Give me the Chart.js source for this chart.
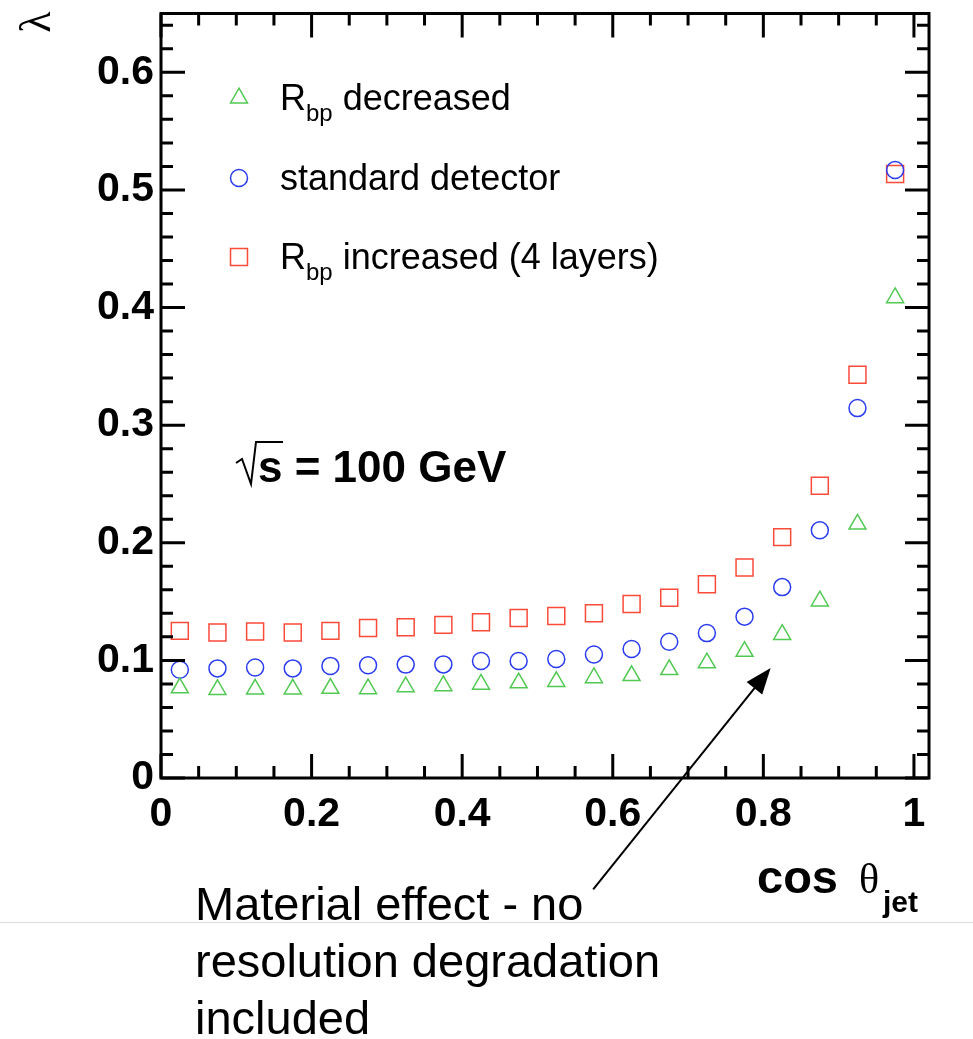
<!DOCTYPE html>
<html>
<head>
<meta charset="utf-8">
<script src="https://cdn.jsdelivr.net/npm/chart.js@4.4.1/dist/chart.umd.min.js"></script>
<style>
  html, body { margin: 0; padding: 0; background: #fff; }
  canvas { display: block; }
</style>
</head>
<body>
<canvas id="myChart" width="973" height="1039"></canvas>
<script>
// bin centres in cos(theta_jet)
var cosTheta = [0.025, 0.075, 0.125, 0.175, 0.225, 0.275, 0.325, 0.375, 0.425, 0.475,
                0.525, 0.575, 0.625, 0.675, 0.725, 0.775, 0.825, 0.875, 0.925, 0.975];

var rbpDecreased = [0.0766, 0.0752, 0.0756, 0.0756, 0.0762, 0.0758, 0.0775, 0.0784, 0.0797, 0.0808,
                    0.0820, 0.0852, 0.0870, 0.0921, 0.0978, 0.1076, 0.1220, 0.1505, 0.2158, 0.4083];
var standardDetector = [0.0920, 0.0932, 0.0940, 0.0932, 0.0953, 0.0958, 0.0964, 0.0966, 0.0995, 0.0995,
                        0.1012, 0.1050, 0.1097, 0.1158, 0.1232, 0.1372, 0.1623, 0.2107, 0.3145, 0.5169];
var rbpIncreased = [0.1251, 0.1237, 0.1245, 0.1237, 0.1251, 0.1276, 0.1282, 0.1302, 0.1325, 0.1361,
                    0.1378, 0.1401, 0.1480, 0.1533, 0.1648, 0.1790, 0.2048, 0.2485, 0.3429, 0.5136];

var xTickValues = [0, 0.2, 0.4, 0.6, 0.8, 1];
var yTickValues = [0, 0.1, 0.2, 0.3, 0.4, 0.5, 0.6];
var xMinorStep = 0.05;
var yMinorStep = 0.02;

var legendLabels = ['R_{bp} decreased', 'standard detector', 'R_{bp} increased (4 layers)'];
var noteLines = ['Material effect - no', 'resolution degradation', 'included'];

var green = '#52c952';
var blue = '#2a3cf0';
var red = '#fa4a38';

function toPoints(xs, ys) {
    return xs.map(function (x, i) { return { x: x, y: ys[i] }; });
}

// text with a _{sub} part
function drawSubText(ctx, str, x, y, size, subSize) {
    var m = str.match(/^(.*?)_\{(.*?)\}(.*)$/);
    ctx.font = size + 'px "Liberation Sans", Arial, sans-serif';
    if (!m) { ctx.fillText(str, x, y); return; }
    ctx.fillText(m[1], x, y);
    x += ctx.measureText(m[1]).width;
    ctx.font = subSize + 'px "Liberation Sans", Arial, sans-serif';
    ctx.fillText(m[2], x, y + 11);
    x += ctx.measureText(m[2]).width;
    ctx.font = size + 'px "Liberation Sans", Arial, sans-serif';
    ctx.fillText(m[3], x, y);
}

function noPadding(scale) {
    scale.paddingTop = 0;
    scale.paddingBottom = 0;
    scale.paddingLeft = 0;
    scale.paddingRight = 0;
}

var framePlugin = {
    id: 'frame',
    afterDraw: function (chart) {
        var ctx = chart.ctx;
        var a = chart.chartArea;
        var xs = chart.scales.x, ys = chart.scales.y;
        var v, p, len;
        ctx.save();
        ctx.strokeStyle = '#000';
        ctx.lineWidth = 3;
        ctx.strokeRect(a.left, a.top, a.right - a.left, a.bottom - a.top);

        ctx.beginPath();
        for (v = 0; v <= xs.max + 1e-9; v += xMinorStep) {
            p = xs.getPixelForValue(v);
            len = Math.abs(Math.round(v / 0.2) * 0.2 - v) < 1e-6 ? 24 : 12;
            ctx.moveTo(p, a.bottom); ctx.lineTo(p, a.bottom - len);
            ctx.moveTo(p, a.top); ctx.lineTo(p, a.top + len);
        }
        for (v = 0; v <= ys.max + 1e-9; v += yMinorStep) {
            p = ys.getPixelForValue(v);
            len = Math.abs(Math.round(v / 0.1) * 0.1 - v) < 1e-6 ? 24 : 12;
            ctx.moveTo(a.left, p); ctx.lineTo(a.left + len, p);
            ctx.moveTo(a.right, p); ctx.lineTo(a.right - len, p);
        }
        ctx.stroke();

        // legend
        var legendY = [98, 178, 257];
        chart.data.datasets.forEach(function (ds, i) {
            ctx.strokeStyle = ds.borderColor;
            ctx.fillStyle = 'rgba(0,0,0,0)';
            ctx.lineWidth = 1.5;
            Chart.helpers.drawPoint(ctx, {
                pointStyle: ds.pointStyle, radius: ds.pointRadius, borderWidth: 1.5
            }, 239, legendY[i]);
            ctx.fillStyle = '#000';
            ctx.textBaseline = 'alphabetic';
            ctx.textAlign = 'left';
            drawSubText(ctx, legendLabels[i], 280, legendY[i] + 12, 36, 24);
        });

        // y title (rotated lambda)
        ctx.save();
        ctx.translate(38, 22);
        ctx.rotate(-Math.PI / 2);
        ctx.font = '44px "Liberation Serif", serif';
        ctx.textAlign = 'center';
        ctx.textBaseline = 'middle';
        ctx.fillText('\u03bb', 0, 0);
        ctx.restore();

        // x title
        ctx.fillStyle = '#000';
        ctx.strokeStyle = '#000';
        ctx.textAlign = 'left';
        ctx.textBaseline = 'alphabetic';
        ctx.font = 'bold 47px "Liberation Sans", Arial, sans-serif';
        ctx.fillText('cos', 757, 893);
        ctx.font = '42px "Liberation Serif", serif';
        ctx.fillText('\u03b8', 859, 893);
        ctx.font = 'bold 30px "Liberation Sans", Arial, sans-serif';
        ctx.fillText('jet', 883, 912);

        // sqrt(s) label
        ctx.lineWidth = 2;
        ctx.beginPath();
        ctx.moveTo(236, 463); ctx.lineTo(242, 459); ctx.lineTo(251, 484);
        ctx.lineTo(256, 442); ctx.lineTo(283, 442);
        ctx.stroke();
        ctx.font = 'bold 44px "Liberation Sans", Arial, sans-serif';
        ctx.fillText('s = 100 GeV', 258, 482);

        // slide rule
        ctx.strokeStyle = '#dcdcdc';
        ctx.lineWidth = 1;
        ctx.beginPath();
        ctx.moveTo(0, 922.5); ctx.lineTo(973, 922.5);
        ctx.stroke();

        // note with arrow
        ctx.font = '47px "Liberation Sans", Arial, sans-serif';
        noteLines.forEach(function (t, i) {
            ctx.fillText(t, 195, 920 + i * 57);
        });
        var x0 = xs.getPixelForValue(0.574), y0 = ys.getPixelForValue(-0.0947);
        var x1 = xs.getPixelForValue(0.8097), y1 = ys.getPixelForValue(0.0936);
        var ang = Math.atan2(y1 - y0, x1 - x0);
        ctx.strokeStyle = '#000';
        ctx.lineWidth = 2;
        ctx.beginPath();
        ctx.moveTo(x0, y0);
        ctx.lineTo(x1 - 20 * Math.cos(ang), y1 - 20 * Math.sin(ang));
        ctx.stroke();
        ctx.beginPath();
        ctx.moveTo(x1, y1);
        ctx.lineTo(x1 - 26 * Math.cos(ang) + 10 * Math.sin(ang), y1 - 26 * Math.sin(ang) - 10 * Math.cos(ang));
        ctx.lineTo(x1 - 26 * Math.cos(ang) - 10 * Math.sin(ang), y1 - 26 * Math.sin(ang) + 10 * Math.cos(ang));
        ctx.closePath();
        ctx.fillStyle = '#000';
        ctx.fill();
        ctx.restore();
    }
};

var tickFont = { family: '"Liberation Sans", Arial, sans-serif', size: 41, weight: 'bold' };

new Chart(document.getElementById('myChart').getContext('2d'), {
    type: 'scatter',
    data: {
        datasets: [{
            label: 'Rbp decreased',
            data: toPoints(cosTheta, rbpDecreased),
            pointStyle: 'triangle',
            pointRadius: 9.8,
            borderColor: green,
            backgroundColor: 'rgba(0,0,0,0)',
            pointBorderWidth: 1.5
        }, {
            label: 'standard detector',
            data: toPoints(cosTheta, standardDetector),
            pointStyle: 'circle',
            pointRadius: 8.5,
            borderColor: blue,
            backgroundColor: 'rgba(0,0,0,0)',
            pointBorderWidth: 1.5
        }, {
            label: 'Rbp increased (4 layers)',
            data: toPoints(cosTheta, rbpIncreased),
            pointStyle: 'rect',
            pointRadius: 12,
            borderColor: red,
            backgroundColor: 'rgba(0,0,0,0)',
            pointBorderWidth: 1.5
        }]
    },
    options: {
        responsive: false,
        animation: false,
        layout: { padding: { left: 0, top: 9, right: 44, bottom: 0 } },
        plugins: {
            legend: { display: false },
            tooltip: { enabled: false }
        },
        scales: {
            x: {
                type: 'linear',
                min: 0,
                max: 1.02,
                grid: { display: false, drawTicks: false },
                border: { display: false },
                afterBuildTicks: function (scale) {
                    scale.ticks = xTickValues.map(function (v) { return { value: v }; });
                },
                afterFit: function (scale) {
                    scale.height = 1039 - 778;
                    noPadding(scale);
                },
                ticks: {
                    color: '#000',
                    font: tickFont,
                    padding: 12,
                    maxRotation: 0,
                    callback: function (v) { return String(v); }
                }
            },
            y: {
                type: 'linear',
                min: 0,
                max: 0.65,
                grid: { display: false, drawTicks: false },
                border: { display: false },
                afterBuildTicks: function (scale) {
                    scale.ticks = yTickValues.map(function (v) { return { value: v }; });
                },
                afterFit: function (scale) {
                    scale.width = 161;
                    noPadding(scale);
                },
                ticks: {
                    color: '#000',
                    font: tickFont,
                    padding: 7,
                    callback: function (v) { return String(v); }
                }
            }
        }
    },
    plugins: [framePlugin]
});
</script>
</body>
</html>
